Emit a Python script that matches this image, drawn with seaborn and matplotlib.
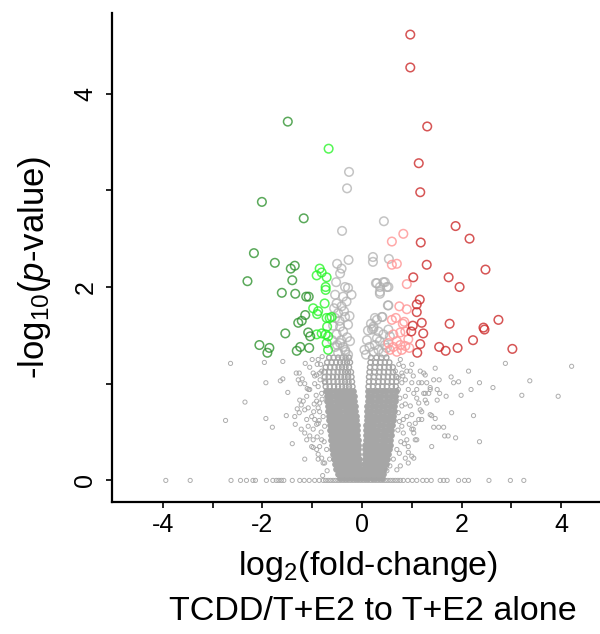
import matplotlib
matplotlib.use("Agg")
import matplotlib.pyplot as plt
import seaborn as sns
import pandas as pd

# --- significant, up (dark red) ---
red_x = [0.97, 0.97, 1.31, 1.14, 1.17, 1.18, 1.88, 2.16, 1.30, 2.48, 1.03, 1.74, 1.96, 1.16, 1.10, 1.10,
         1.02, 1.20, 1.76, 1.23, 0.99, 2.44, 2.46, 2.74, 2.23, 1.17, 1.11, 1.55, 1.68, 1.92, 3.02]
red_y = [4.61, 4.27, 3.66, 3.28, 2.98, 2.46, 2.63, 2.50, 2.23, 2.18, 2.10, 2.10, 2.00, 1.87, 1.82, 1.74,
         1.60, 1.63, 1.62, 1.52, 1.54, 1.58, 1.56, 1.66, 1.45, 1.41, 1.32, 1.38, 1.34, 1.37, 1.36]

# --- significant, small up (light red) ---
pink_x = [0.83, 0.60, 0.60, 0.70, 0.90, 0.75, 0.90, 0.60, 0.68, 0.82, 0.85, 0.63, 0.77, 0.87, 0.93, 0.70,
          0.77, 0.63, 0.95, 0.56, 0.80, 0.70, 0.53, 0.87]
pink_y = [2.55, 2.47, 2.23, 2.24, 2.03, 1.80, 1.77, 1.66, 1.68, 1.62, 1.64, 1.51, 1.53, 1.54, 1.46, 1.44,
          1.40, 1.38, 1.37, 1.35, 1.35, 1.33, 1.42, 1.39]

# --- significant, down (dark green) ---
dgreen_x = [-1.49, -2.01, -1.17, -2.17, -1.75, -1.43, -1.35, -2.30, -1.40, -1.61, -1.34, -1.12, -1.07, -1.14,
            -1.21, -1.28, -1.54, -1.08, -1.04, -2.06, -1.86, -1.90, -1.24, -1.31, -1.06]
dgreen_y = [3.71, 2.88, 2.71, 2.35, 2.25, 2.19, 2.22, 2.06, 2.07, 1.94, 1.93, 1.90, 1.90, 1.71,
            1.65, 1.63, 1.52, 1.53, 1.49, 1.40, 1.37, 1.32, 1.38, 1.34, 1.37]

# --- significant, small down (bright green) ---
lgreen_x = [-0.67, -0.85, -0.91, -0.71, -0.81, -0.73, -0.73, -0.75, -0.98, -0.88, -0.90, -0.71, -0.61, -0.65,
            -0.70, -0.81, -0.73, -0.91, -0.68, -0.71, -0.68]
lgreen_y = [3.43, 2.19, 2.12, 2.10, 2.15, 2.00, 1.97, 1.83, 1.78, 1.75, 1.72, 1.68, 1.69, 1.68,
            1.59, 1.52, 1.51, 1.51, 1.49, 1.42, 1.35]

# --- significant p, small fold-change (large grey) ---
sig_x = [-0.26, -0.30, -0.40, 0.44, -0.27, 0.22, 0.22, 0.54,
         -0.50, -0.41, -0.44, -0.52, -0.34, -0.28, -0.21, -0.54, -0.38, -0.31, -0.51, -0.41, -0.48, -0.34,
         -0.54, -0.28, -0.44, -0.38, -0.51, -0.24, -0.44, -0.54, -0.34, -0.48, -0.28, -0.38,
         -0.58, -0.60, -0.45, -0.30, -0.36, -0.56, -0.25, -0.42, -0.50, -0.33,
         0.30, 0.43, 0.36, 0.50, 0.53, 0.41, 0.30, 0.23, 0.20, 0.33, 0.43, 0.30, 0.36, 0.26, 0.46, 0.33,
         0.23, 0.43, 0.50, 0.56, 0.53, 0.28, 0.46, 0.36, 0.53, 0.36, 0.52, 0.26, 0.40, 0.23,
         0.10, 0.05, 0.12, 0.15, 0.08, 0.18]
sig_y = [3.19, 3.02, 2.58, 2.68, 2.28, 2.31, 2.26, 2.29,
         2.24, 2.19, 2.14, 2.05, 2.00, 1.99, 1.92, 1.92, 1.90, 1.85, 1.83, 1.80, 1.73, 1.69,
         1.68, 1.61, 1.59, 1.54, 1.51, 1.44, 1.42, 1.38, 1.35, 1.32, 1.30, 1.38,
         1.60, 1.45, 1.65, 1.48, 1.75, 1.78, 1.70, 1.45, 1.40, 1.33,
         2.04, 2.05, 1.93, 2.00, 1.81, 1.69, 1.66, 1.57, 1.56, 1.54, 1.51, 1.47, 1.44, 1.40, 1.40, 1.35,
         1.33, 1.32, 1.37, 1.49, 1.56, 2.04, 2.05, 2.00, 2.00, 1.95, 1.81, 1.68, 1.69, 1.59,
         1.45, 1.35, 1.55, 1.38, 1.30, 1.62]

# --- not significant: scattered points left / right of the core ---
ns_left = [(-2.64, 1.21), (-1.96, 1.22), (-1.59, 1.23), (-1.14, 1.21), (-0.88, 1.25), (-1.93, 1.01),
           (-1.64, 1.03), (-1.59, 1.05), (-1.49, 0.91), (-2.35, 0.81), (-2.74, 0.62), (-1.93, 0.64),
           (-1.80, 0.55), (-1.52, 0.67), (-1.40, 0.38), (-1.34, 0.58), (-1.32, 1.11), (-1.26, 1.11),
           (-1.24, 1.00), (-1.20, 1.05), (-1.15, 0.22), (-1.25, 0.83), (-1.22, 0.78), (-1.18, 0.82),
           (-1.30, 0.74), (-1.26, 0.70), (-1.11, 0.63), (-1.22, 0.53), (-1.05, 0.46), (-0.98, 0.42),
           (-0.98, 0.34), (-0.88, 0.22), (-0.78, 0.18), (-1.07, 0.94), (-0.97, 0.71), (-0.91, 0.58),
           (-0.88, 0.75), (-1.11, 0.87), (-1.15, 0.73), (-1.08, 0.75), (-1.05, 0.94), (-0.98, 1.11),
           (-0.95, 1.08), (-0.91, 1.09), (-0.85, 1.11), (-0.81, 1.13), (-1.01, 0.66), (-0.95, 0.63),
           (-0.88, 0.59), (-1.08, 0.56), (-1.01, 0.35), (-0.91, 0.32), (-0.88, 0.27), (-0.81, 0.23),
           (-0.75, 0.18), (-1.15, 0.49), (-1.11, 0.42), (-0.91, 0.82), (-0.85, 0.80), (-1.28, 1.04),
           (-1.35, 0.66), (-0.98, 0.53), (-0.81, 0.42), (-0.85, 0.71), (-0.78, 0.66), (-0.81, 0.90),
           (-0.88, 0.97), (-0.75, 1.01), (-0.75, 0.56), (-0.71, 0.32), (-0.65, 0.22), (-0.85, 0.35),
           (-0.80, 1.28), (-0.90, 1.20), (-1.00, 1.25), (-1.05, 1.17), (-0.95, 1.00), (-1.15, 1.00),
           (-1.10, 0.95), (-0.84, 1.04), (-0.92, 0.88), (-0.96, 0.79), (-0.82, 0.50), (-0.90, 0.45),
           (-0.79, 0.05), (-0.70, 0.10), (-0.83, 1.20), (-0.86, 0.62), (-0.76, 0.40), (-0.80, 0.84)]
ns_right = [(1.47, 1.16), (1.79, 1.07), (1.94, 1.02), (1.84, 1.01), (2.14, 1.13), (2.36, 1.01),
            (2.63, 0.96), (2.88, 1.21), (3.37, 1.03), (4.21, 1.18), (3.21, 0.88), (3.94, 0.87),
            (2.19, 0.94), (1.99, 0.88), (1.56, 0.90), (1.69, 0.87), (1.51, 0.83), (1.37, 0.96),
            (1.27, 0.90), (1.44, 1.04), (1.55, 1.04), (1.80, 0.70), (2.24, 0.67), (1.40, 0.67),
            (1.47, 0.64), (1.44, 0.55), (1.54, 0.55), (1.64, 0.55), (1.66, 0.46), (1.73, 0.46),
            (1.88, 0.44), (2.36, 0.40), (1.40, 0.35), (1.30, 0.80), (1.20, 0.71), (1.14, 0.63),
            (1.03, 0.53), (1.10, 0.42), (0.93, 0.29), (1.00, 0.25), (1.24, 1.11), (1.17, 1.13),
            (1.27, 1.09), (1.14, 1.01), (1.00, 1.20), (0.90, 1.13), (0.82, 1.08), (0.77, 1.25),
            (0.83, 1.18), (0.97, 1.13), (1.03, 1.08), (1.30, 1.01), (1.24, 0.90), (1.37, 0.94),
            (1.27, 0.83), (1.14, 0.80), (1.17, 0.73), (1.37, 0.68), (1.20, 0.63), (1.07, 0.59),
            (1.00, 0.53), (1.04, 0.49), (0.90, 0.42), (1.07, 0.42), (0.93, 0.35), (1.04, 0.23),
            (0.87, 0.23), (0.93, 0.18), (0.77, 0.15), (0.70, 0.11), (1.34, 0.90), (1.51, 0.94),
            (0.80, 1.01), (0.73, 0.94), (0.87, 0.87), (0.97, 0.77), (1.10, 0.94), (0.90, 0.66),
            (0.80, 0.56), (0.83, 0.49), (0.70, 0.32), (0.63, 0.22), (0.56, 0.15), (0.50, 0.10),
            (0.80, 1.11), (0.73, 1.06), (0.67, 1.13), (0.87, 1.04), (1.00, 1.01), (1.04, 0.90),
            (0.93, 0.94), (1.20, 1.01), (1.10, 0.85), (0.80, 0.77), (0.73, 0.70), (0.83, 0.63),
            (1.00, 0.68), (0.87, 0.79), (0.76, 0.85), (0.95, 0.58), (0.75, 0.28), (0.85, 0.38),
            (0.74, 1.20), (0.78, 0.40), (0.72, 0.52), (0.75, 0.61)]

# --- genes with p = 1 (-log10 p = 0) ---
zero_x = [-3.94, -3.45, -2.63, -2.44, -2.32, -2.19, -2.14, -1.92, -1.79, -1.72, -1.67, -1.62, -1.57,
          -1.40, -1.25, -1.16, -1.06, -0.95, -0.86,
          -0.78, -0.73, -0.68, -0.63, -0.58, -0.53, -0.48, -0.43, -0.38, -0.33, -0.28, -0.23, -0.18,
          -0.13, -0.08, -0.03, 0.02, 0.07, 0.12, 0.17, 0.22, 0.27, 0.32, 0.37, 0.42, 0.47, 0.52,
          0.57, 0.62, 0.67, 0.72, 0.77,
          0.83, 0.92, 1.01, 1.10, 1.22, 1.30, 1.39, 1.57, 1.64, 1.71, 1.94, 2.06, 2.14, 2.55, 2.98, 3.25]

# --- dense V-shaped core, read row by row (-log10 p, log2 fc values) ---
core_rows = [
    (0.03, [-0.45, -0.37, -0.30, -0.22, -0.15, -0.08, -0.01, 0.06, 0.13, 0.20, 0.27, 0.34, 0.40]),
    (0.07, [-0.49, -0.42, -0.35, -0.27, -0.20, -0.13, -0.06, 0.01, 0.08, 0.15, 0.22, 0.29, 0.36, 0.42]),
    (0.12, [-0.52, -0.45, -0.38, -0.31, -0.24, -0.17, -0.10, -0.04, 0.04, 0.11, 0.18, 0.25, 0.33, 0.40, 0.45]),
    (0.17, [-0.55, -0.48, -0.41, -0.34, -0.27, -0.20, -0.12, -0.05, 0.05, 0.12, 0.19, 0.26, 0.33, 0.41, 0.48]),
    (0.22, [-0.57, -0.50, -0.43, -0.36, -0.29, -0.21, -0.14, -0.06, 0.06, 0.13, 0.20, 0.27, 0.35, 0.43, 0.50]),
    (0.27, [-0.58, -0.51, -0.43, -0.36, -0.28, -0.21, -0.13, -0.07, 0.06, 0.14, 0.21, 0.29, 0.37, 0.45, 0.52]),
    (0.32, [-0.60, -0.52, -0.45, -0.38, -0.30, -0.22, -0.14, -0.07, 0.07, 0.14, 0.22, 0.30, 0.38, 0.46, 0.54]),
    (0.37, [-0.61, -0.53, -0.46, -0.38, -0.31, -0.23, -0.15, -0.08, 0.07, 0.15, 0.23, 0.31, 0.39, 0.47, 0.56]),
    (0.42, [-0.62, -0.54, -0.47, -0.39, -0.31, -0.24, -0.16, -0.09, 0.08, 0.15, 0.23, 0.31, 0.40, 0.48, 0.57]),
    (0.47, [-0.63, -0.55, -0.48, -0.40, -0.32, -0.24, -0.17, -0.10, 0.08, 0.16, 0.24, 0.32, 0.41, 0.49, 0.58]),
    (0.52, [-0.64, -0.56, -0.48, -0.40, -0.32, -0.25, -0.17, -0.10, 0.09, 0.16, 0.25, 0.33, 0.42, 0.50, 0.59]),
    (0.57, [-0.65, -0.57, -0.49, -0.41, -0.33, -0.25, -0.18, -0.11, 0.09, 0.17, 0.25, 0.34, 0.43, 0.52, 0.60]),
    (0.62, [-0.66, -0.58, -0.50, -0.42, -0.34, -0.26, -0.19, -0.12, 0.10, 0.18, 0.26, 0.35, 0.44, 0.53, 0.62]),
    (0.67, [-0.67, -0.59, -0.51, -0.43, -0.35, -0.27, -0.20, -0.13, 0.10, 0.18, 0.27, 0.36, 0.45, 0.54, 0.63]),
    (0.72, [-0.68, -0.60, -0.52, -0.44, -0.35, -0.28, -0.21, -0.14, 0.11, 0.19, 0.28, 0.37, 0.46, 0.55, 0.64]),
    (0.77, [-0.69, -0.61, -0.52, -0.44, -0.36, -0.29, -0.22, -0.15, 0.11, 0.20, 0.29, 0.38, 0.47, 0.56, 0.65]),
    (0.82, [-0.70, -0.62, -0.53, -0.45, -0.37, -0.30, -0.23, -0.16, 0.12, 0.21, 0.30, 0.39, 0.48, 0.57, 0.66]),
    (0.87, [-0.71, -0.63, -0.54, -0.46, -0.38, -0.31, -0.24, -0.17, 0.12, 0.21, 0.30, 0.39, 0.48, 0.58, 0.67]),
    (0.92, [-0.72, -0.64, -0.55, -0.47, -0.39, -0.32, -0.25, -0.18, 0.13, 0.22, 0.31, 0.40, 0.49, 0.59, 0.68]),
]
# upper part of the cloud is looser: individual rings still visible
upper_rows = [
    (0.97, [-0.73, -0.65, -0.56, -0.48, -0.40, -0.33, -0.26, -0.19, 0.13, 0.22, 0.32, 0.41, 0.50, 0.60, 0.68]),
    (1.02, [-0.74, -0.66, -0.57, -0.49, -0.41, -0.34, -0.27, -0.20, 0.14, 0.23, 0.33, 0.42, 0.51, 0.60, 0.69]),
    (1.07, [-0.75, -0.67, -0.58, -0.50, -0.42, -0.35, -0.28, -0.21, 0.14, 0.24, 0.34, 0.43, 0.52, 0.61, 0.69]),
    (1.12, [-0.75, -0.66, -0.57, -0.49, -0.41, -0.34, -0.28, -0.22, 0.15, 0.25, 0.35, 0.44, 0.53, 0.62]),
    (1.17, [-0.73, -0.64, -0.55, -0.47, -0.40, -0.33, -0.26, 0.16, 0.26, 0.36, 0.45, 0.54, 0.62]),
    (1.22, [-0.70, -0.61, -0.52, -0.44, -0.37, -0.30, -0.24, 0.17, 0.27, 0.37, 0.46, 0.55]),
    (1.27, [-0.66, -0.57, -0.48, -0.40, -0.33, -0.26, 0.18, 0.29, 0.39, 0.49]),
]


def rows_to_frame(rows):
    xs, ys = [], []
    for yv, row in rows:
        xs += row
        ys += [yv] * len(row)
    return pd.DataFrame({"fc": xs, "p": ys})


small_x = [p[0] for p in ns_left + ns_right] + zero_x
small_y = [p[1] for p in ns_left + ns_right] + [0.0] * len(zero_x)
small = pd.DataFrame({"fc": small_x, "p": small_y})
core = rows_to_frame(core_rows)
upper = rows_to_frame(upper_rows)

sns.set_style("ticks")
plt.rcParams["font.family"] = ["Liberation Sans", "DejaVu Sans"]
plt.rcParams["mathtext.fontset"] = "custom"
plt.rcParams["mathtext.rm"] = "Liberation Sans"
plt.rcParams["mathtext.it"] = "Liberation Sans:italic"

fig = plt.figure(figsize=(6, 6.34), dpi=100)
ax = fig.add_axes([0.1867, 0.2087, 0.8133, 0.7703])

# packed core: so many overlapping rings that it reads as solid grey
sns.scatterplot(data=core, x="fc", y="p", ax=ax, s=17, color="#a6a6a6",
                edgecolor="#a6a6a6", linewidth=0.6, alpha=1.0, legend=False)
sns.scatterplot(data=upper, x="fc", y="p", ax=ax, s=13, facecolor="none",
                edgecolor="#a6a6a6", linewidth=1.0, alpha=1.0, legend=False)
# small grey, not significant
sns.scatterplot(data=small, x="fc", y="p", ax=ax, s=9, facecolor="none",
                edgecolor="#a4a4a4", linewidth=0.7, alpha=0.9, legend=False)

groups = [
    (sig_x, sig_y, "#b0b0b0", 0.75),
    (pink_x, pink_y, "#ff9a9a", 0.85),
    (red_x, red_y, "#cc2a2a", 0.8),
    (lgreen_x, lgreen_y, "#2af52a", 0.8),
    (dgreen_x, dgreen_y, "#238c23", 0.75),
]
for gx, gy, col, a in groups:
    sns.scatterplot(x=gx, y=gy, ax=ax, s=38, facecolor="none", edgecolor=col,
                    linewidth=1.1, alpha=a, legend=False)

ax.set_xlim(-5.02, 4.78)
ax.set_ylim(-0.22, 4.83)
ax.set_xticks(range(-4, 5))
ax.set_xticklabels(["-4", "", "-2", "", "0", "", "2", "", "4"])
ax.set_yticks(range(0, 5))
ax.set_yticklabels(["0", "", "2", "", "4"], rotation=90, va="center")
ax.tick_params(direction="out", length=4.5, width=1.2, labelsize=18, pad=4,
               color="black", labelcolor="black")
ax.tick_params(axis="y", pad=6)
ax.set_xlabel("")
ax.set_ylabel("")
for side in ["top", "right"]:
    ax.spines[side].set_visible(False)
for side in ["left", "bottom"]:
    ax.spines[side].set_linewidth(1.6)
    ax.spines[side].set_color("black")

fig.text(368 / 600, 1 - 567 / 634, r"log$_\mathregular{2}$(fold-change)", fontsize=24.5,
         ha="center", va="center", color="black")
fig.text(373 / 600, 1 - 612 / 634, "TCDD/T+E2 to T+E2 alone", fontsize=24.5,
         ha="center", va="center", color="black")
fig.text(35 / 600, 1 - 267 / 634, r"-log$_\mathregular{10}$($\mathit{p}$-value)", fontsize=25,
         ha="center", va="center", rotation=90, color="black")

fig.savefig("out.png", dpi=100)
